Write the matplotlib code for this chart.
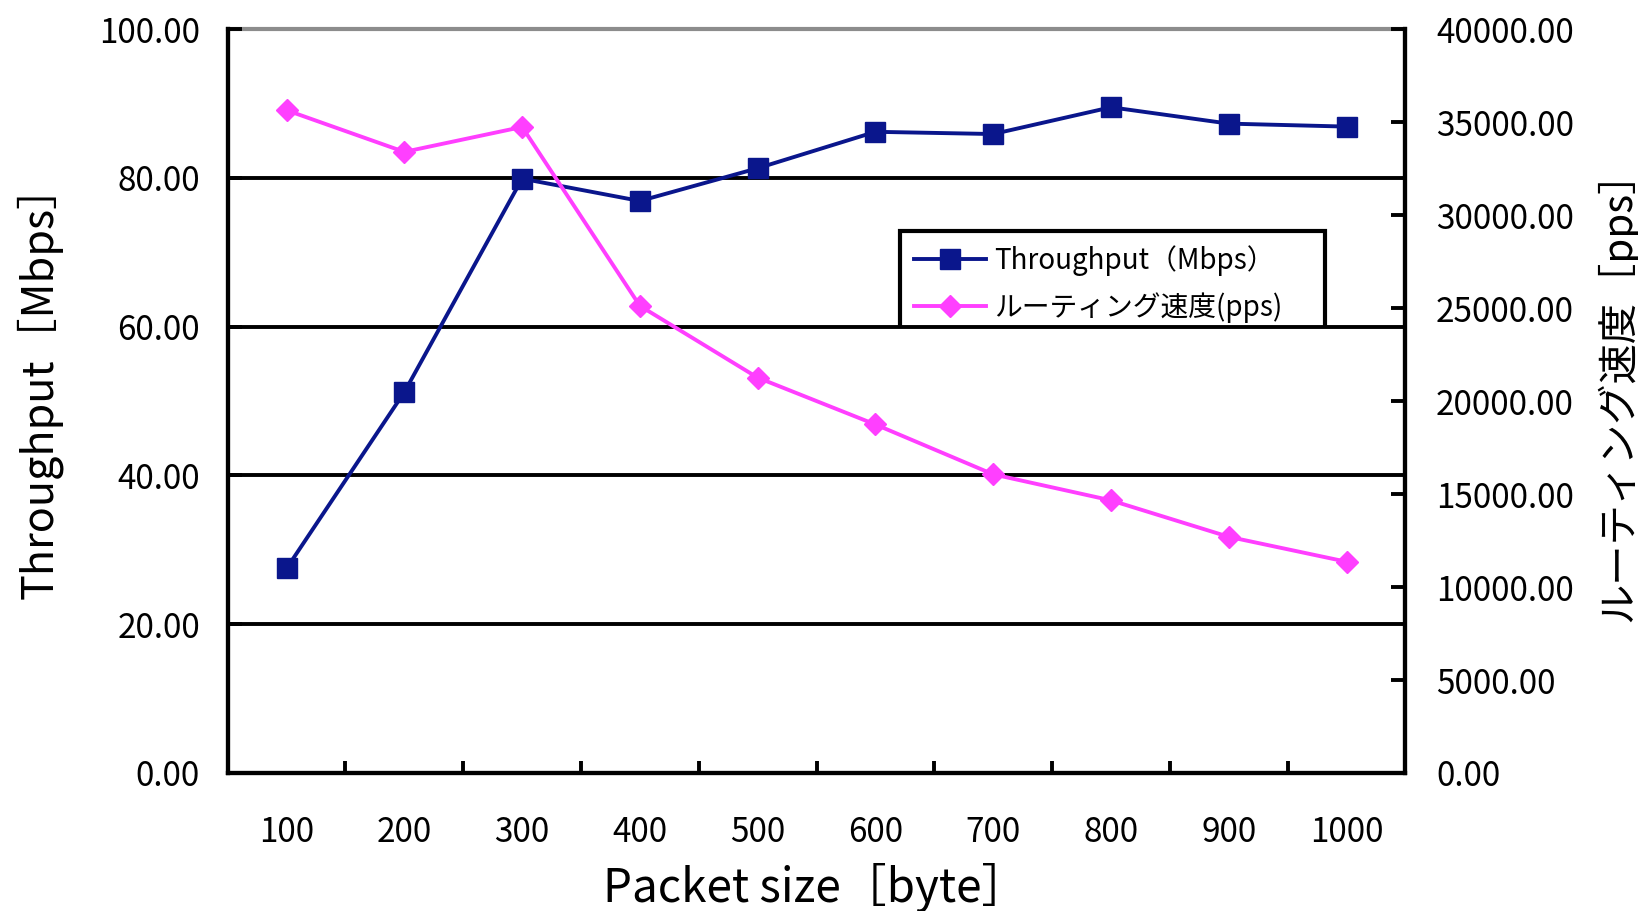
import matplotlib
matplotlib.use("Agg")
import matplotlib.pyplot as plt
from matplotlib.transforms import Bbox, TransformedBbox

plt.rcParams['font.family'] = ['Noto Sans CJK JP', 'DejaVu Sans']

# data
packet_sizes = ["100", "200", "300", "400", "500", "600", "700", "800", "900", "1000"]
throughput_mbps = [27.5, 51.2, 79.9, 76.9, 81.3, 86.2, 85.9, 89.5, 87.3, 86.9]
routing_pps = [35640, 33400, 34740, 25120, 21260, 18740, 16060, 14660, 12700, 11360]

left_ticks = [0, 20, 40, 60, 80, 100]
right_ticks = [0, 5000, 10000, 15000, 20000, 25000, 30000, 35000, 40000]

navy = "#0A168C"
pink = "#FF3FFF"

fig = plt.figure(figsize=(16.38, 9.11), dpi=100)
ax = fig.add_axes([0.139, 0.1515, 0.719, 0.8165])
ax2 = ax.twinx()

x = list(range(len(packet_sizes)))

l1, = ax.plot(x, throughput_mbps, color=navy, lw=2.8, marker="s", ms=14,
              label="Throughput（Mbps）", zorder=4)
l2, = ax2.plot(x, routing_pps, color=pink, lw=2.8, marker="D", ms=11,
               label="ルーティング速度(pps)", zorder=4)

# x axis: labels at category centres, short inward ticks between categories
ax.set_xlim(-0.5, len(x) - 0.5)
ax.set_xticks(x, packet_sizes)
ax.set_xticks([i + 0.5 for i in x[:-1]], minor=True)
ax.tick_params(axis="x", which="major", length=0, pad=30, labelsize=24)
ax.tick_params(axis="x", which="minor", direction="in", length=9, width=2.8)

ax.set_ylim(0, 100)
ax.set_yticks(left_ticks, [f"{v:.2f}" for v in left_ticks])
ax.tick_params(axis="y", direction="in", length=10, width=2.8, pad=20, labelsize=24)

ax2.set_ylim(0, 40000)
ax2.set_yticks(right_ticks, [f"{v:.2f}" for v in right_ticks])
ax2.tick_params(axis="y", direction="in", length=10, width=2.8, pad=22, labelsize=24)

ax.yaxis.grid(True, color="black", lw=2.8)
ax.get_ygridlines()[-1].set_visible(False)

for a in (ax, ax2):
    for side in ("left", "right", "bottom"):
        a.spines[side].set_linewidth(3)
        a.spines[side].set_color("black")
ax.spines["top"].set_color("#8c8c8c")
ax.spines["top"].set_linewidth(3)
ax.spines["top"].set_zorder(0.5)
ax2.spines["top"].set_visible(False)

# axis titles, positioned by their centres
ax.set_xlabel("Packet size［byte］", fontsize=33, va="center")
ax.set_ylabel("Throughput［Mbps］", fontsize=31, va="center")
ax2.set_ylabel("ルーティング速度［pps］", fontsize=29, rotation=90, va="center")
ax.xaxis.set_label_coords(0.499, -0.155)
ax.yaxis.set_label_coords(-0.160, 0.527)
ax2.yaxis.set_label_coords(1.18, 0.52)

# legend sits below the grid lines, so the 60 line cuts through its lower part
leg = ax.legend(handles=[l1, l2], loc="upper left",
                bbox_to_anchor=(0.571, 0.7285, 0.361, 0), mode="expand",
                fontsize=20, frameon=True, fancybox=False, framealpha=1,
                edgecolor="black", handlelength=2.6, handletextpad=0.3,
                borderpad=0.5, labelspacing=0.6, borderaxespad=0)
leg.get_frame().set_linewidth(3)
leg.set_zorder(1)

clip = TransformedBbox(Bbox([[0, 0.6], [1, 1]]), ax.transAxes)
for artist in leg.findobj():
    artist.set_clip_box(clip)
    artist.set_clip_on(True)

fig.savefig("out.png", dpi=100)
